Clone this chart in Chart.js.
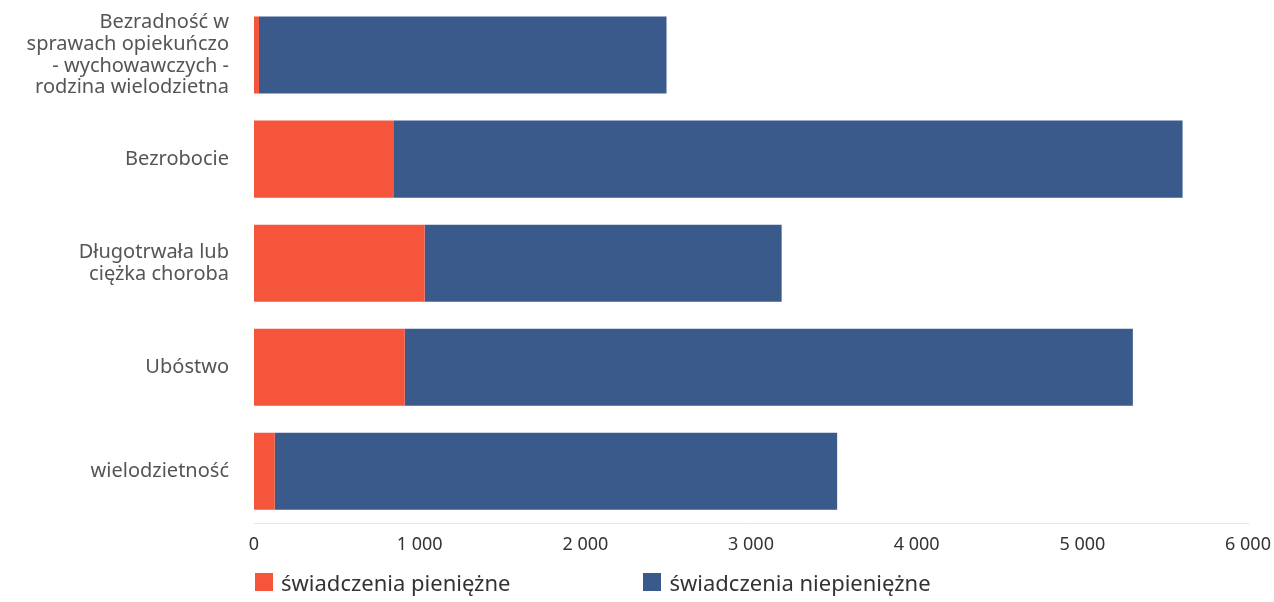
<!DOCTYPE html>
<html lang="pl">
<head>
<meta charset="utf-8">
<script src="https://cdn.jsdelivr.net/npm/chart.js@4/dist/chart.umd.min.js"></script>
<style>
  html, body { margin: 0; padding: 0; background: #fff; }
  #wrap { position: relative; width: 1274px; height: 602px; }
  #legend { position: absolute; left: 255px; top: 567px; display: flex; font: 22px "Noto Sans", sans-serif; color: #333; }
  #legend .item { display: flex; align-items: center; }
  #legend .box { width: 18px; height: 18px; margin-right: 8px; }
</style>
</head>
<body>
<div id="wrap">
  <canvas id="chart" width="1274" height="602"></canvas>
  <div id="legend"></div>
</div>
<script>
// categories (multi-line labels)
const categories = [
    ['Bezradność w', 'sprawach opiekuńczo', '- wychowawczych -', 'rodzina wielodzietna'],
    'Bezrobocie',
    ['Długotrwała lub', 'ciężka choroba'],
    'Ubóstwo',
    'wielodzietność'
];
const cashBenefits = [30, 845, 1030, 910, 125];       // świadczenia pieniężne
const nonCashBenefits = [2460, 4760, 2155, 4395, 3395]; // świadczenia niepieniężne
const xTicks = [0, 1000, 2000, 3000, 4000, 5000, 6000];

const RED = '#f4553b';
const BLUE = '#3b5a8c';

const fmt = v => String(v).replace(/\B(?=(\d{3})+(?!\d))/g, ' ');

const ctx = document.getElementById('chart').getContext('2d');
const chart = new Chart(ctx, {
    type: 'bar',
    data: {
        labels: categories,
        datasets: [
            { label: 'świadczenia pieniężne', data: cashBenefits, backgroundColor: RED },
            { label: 'świadczenia niepieniężne', data: nonCashBenefits, backgroundColor: BLUE }
        ]
    },
    options: {
        indexAxis: 'y',
        responsive: false,
        animation: false,
        layout: { padding: { top: 3, right: 26, bottom: 35, left: 0 } },
        datasets: { bar: { barPercentage: 0.74, categoryPercentage: 1 } },
        plugins: { legend: { display: false }, tooltip: { enabled: false } },
        scales: {
            x: {
                stacked: true, min: 0, max: 6000,
                afterBuildTicks: axis => { axis.ticks = xTicks.map(v => ({ value: v })); },
                afterFit: axis => { axis.paddingLeft = 0; axis.paddingRight = 0; },
                grid: { display: false, drawTicks: false },
                border: { display: true, color: '#dfe5ef', width: 1 },
                ticks: { color: '#333', font: { family: 'Noto Sans', size: 18 }, padding: 11, callback: v => fmt(v) }
            },
            y: {
                stacked: true,
                grid: { display: false, drawTicks: false },
                border: { display: false },
                afterFit: axis => { axis.width = 254; axis.paddingTop = 0; axis.paddingBottom = 0; },
                ticks: { color: '#555', font: { family: 'Noto Sans', size: 20, lineHeight: 1.08 }, padding: 25 }
            }
        }
    }
});

// legend with wide spacing between items
const legend = document.getElementById('legend');
chart.data.datasets.forEach((ds, i) => {
    const item = document.createElement('div');
    item.className = 'item';
    if (i > 0) item.style.marginLeft = '133px';
    item.innerHTML = `<span class="box" style="background:${ds.backgroundColor}"></span><span>${ds.label}</span>`;
    legend.appendChild(item);
});
</script>
</body>
</html>
